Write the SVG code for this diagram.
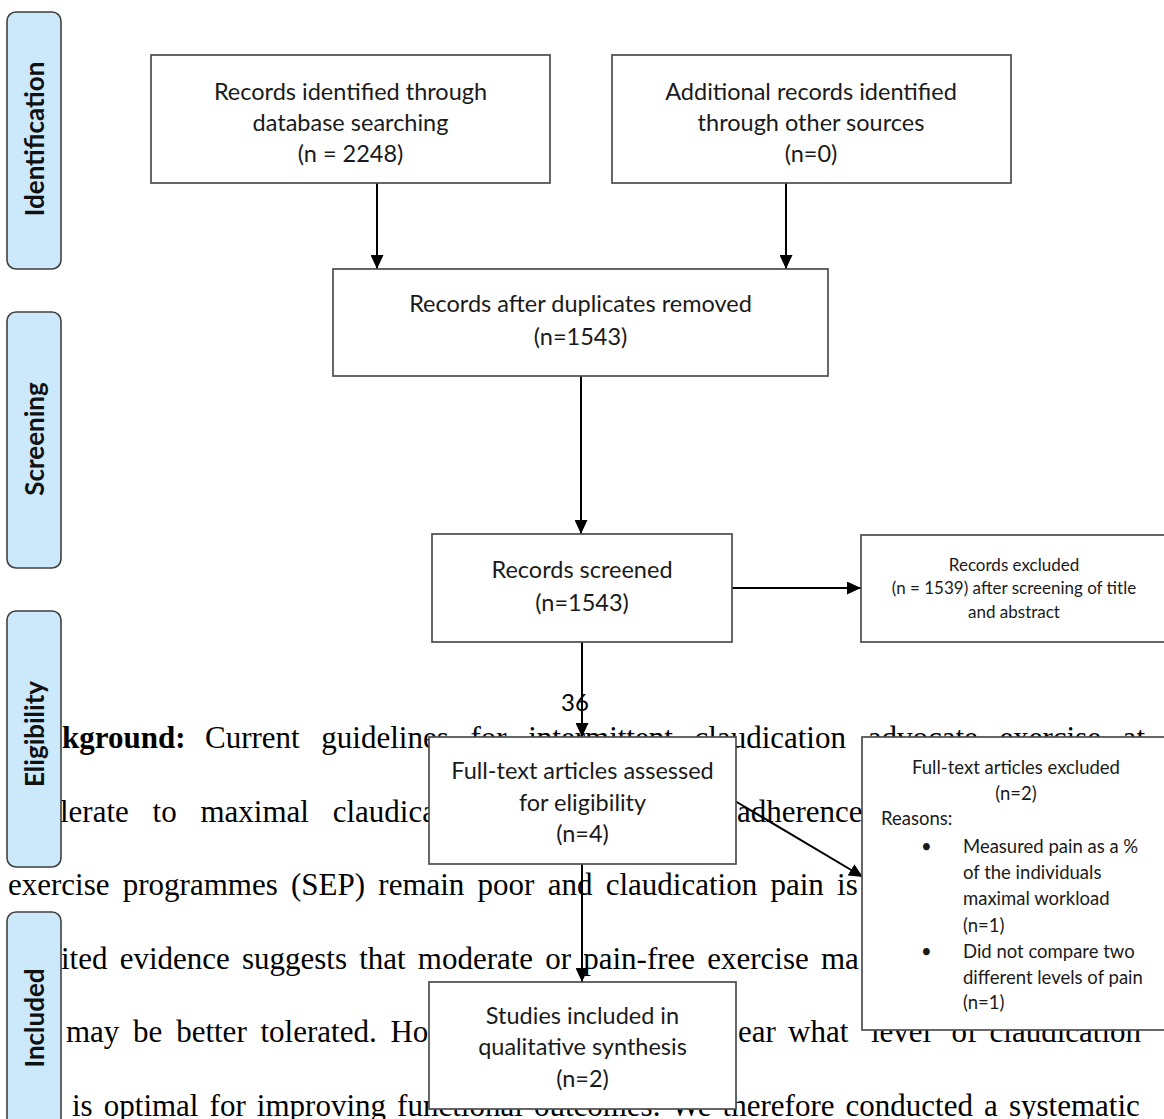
<svg xmlns="http://www.w3.org/2000/svg" width="1164" height="1119" viewBox="0 0 1164 1119">
<defs>
<marker id="ah" markerWidth="14" markerHeight="13" refX="14" refY="6.5" orient="auto" markerUnits="userSpaceOnUse">
<path d="M0,0 L14,6.5 L0,13 z" fill="#000"/>
</marker>
<style>
.bg{font-family:"Liberation Serif","Times New Roman",serif;font-size:31px;fill:#000}
.bx{fill:#fff;stroke:#4d4d4d;stroke-width:1.7}
.lb{fill:#cce9fc;stroke:#3f3f3f;stroke-width:1.6}
.lt{font-family:Lato,"Open Sans",sans-serif;font-weight:700;font-size:26px;fill:#111;text-anchor:middle}
.t{font-family:Lato,"Open Sans",sans-serif;font-size:23.5px;fill:#1a1a1a;text-anchor:middle}
.s{font-family:Lato,"Open Sans",sans-serif;font-size:17px;fill:#1a1a1a;text-anchor:middle}
.m{font-family:Lato,"Open Sans",sans-serif;font-size:18.5px;fill:#1a1a1a}
.c{stroke:#000;stroke-width:2;fill:none;marker-end:url(#ah)}
</style>
</defs>
<rect width="1164" height="1119" fill="#fff"/>
<g id="page-text">
<text class="bg" x="62" y="748" font-weight="bold">kground:</text>
<text class="bg" x="205" y="748" word-spacing="13.9">Current guidelines for intermittent claudication advocate exercise at</text>
<text class="bg" x="60" y="821.6" word-spacing="16">lerate to maximal claudica</text>
<text class="bg" x="737" y="821.6">adherence</text>
<text class="bg" x="8" y="895" word-spacing="5.5">exercise programmes (SEP) remain poor and claudication pain is</text>
<text class="bg" x="61" y="969" word-spacing="4.4">ited evidence suggests that moderate or pain-free exercise ma</text>
<text class="bg" x="66" y="1042" word-spacing="6">may be better tolerated. Ho</text>
<text class="bg" x="738" y="1042" word-spacing="4.5">ear what ‘level’ of claudication</text>
<text class="bg" x="72" y="1116" word-spacing="3.35">is optimal for improving functional outcomes. We therefore conducted a systematic</text>
<text x="575" y="711" font-family="Lato, 'Open Sans', sans-serif" font-size="24" text-anchor="middle" fill="#000">36</text>
</g>
<g id="label-identification"><rect class="lb" x="7" y="12" width="54" height="257" rx="9"/><text class="lt" transform="translate(44,139) rotate(-90)">Identification</text></g>
<g id="label-screening"><rect class="lb" x="7" y="312" width="54" height="256" rx="9"/><text class="lt" transform="translate(44,439) rotate(-90)">Screening</text></g>
<g id="label-eligibility"><rect class="lb" x="7" y="611" width="54" height="256" rx="9"/><text class="lt" transform="translate(44,734) rotate(-90)">Eligibility</text></g>
<g id="label-included"><rect class="lb" x="7" y="912" width="54" height="260" rx="9"/><text class="lt" transform="translate(44,1018) rotate(-90)">Included</text></g>
<g id="connectors">
<line class="c" x1="377" y1="183" x2="377" y2="269"/>
<line class="c" x1="786" y1="183" x2="786" y2="269"/>
<line class="c" x1="581" y1="376" x2="581" y2="534"/>
<line class="c" x1="732" y1="588" x2="861" y2="588"/>
<line class="c" x1="582" y1="642" x2="582" y2="737"/>
<line class="c" x1="735" y1="801" x2="863" y2="877"/>
<line class="c" x1="582" y1="864" x2="582" y2="982"/>
</g>
<g id="node-db"><rect class="bx" x="151" y="55" width="399" height="128"/>
<text class="t" x="350.5" y="100">Records identified through</text>
<text class="t" x="350.5" y="131">database searching</text>
<text class="t" x="350.5" y="162">(n = 2248)</text></g>
<g id="node-other"><rect class="bx" x="612" y="55" width="399" height="128"/>
<text class="t" x="811" y="100">Additional records identified</text>
<text class="t" x="811" y="131">through other sources</text>
<text class="t" x="811" y="162">(n=0)</text></g>
<g id="node-dup"><rect class="bx" x="333" y="269" width="495" height="107"/>
<text class="t" x="580.5" y="312">Records after duplicates removed</text>
<text class="t" x="580.5" y="345">(n=1543)</text></g>
<g id="node-screened"><rect class="bx" x="432" y="534" width="300" height="108"/>
<text class="t" x="582" y="578">Records screened</text>
<text class="t" x="582" y="611">(n=1543)</text></g>
<g id="node-excluded1"><rect class="bx" x="861" y="535" width="330" height="107"/>
<text class="s" x="1014" y="571">Records excluded</text>
<text class="s" x="1014" y="594">(n = 1539) after screening of title</text>
<text class="s" x="1014" y="618">and abstract</text></g>
<g id="node-fulltext"><rect class="bx" x="429" y="737" width="307" height="127"/>
<text class="t" x="582.5" y="779">Full-text articles assessed</text>
<text class="t" x="582.5" y="811">for eligibility</text>
<text class="t" x="582.5" y="842">(n=4)</text></g>
<g id="node-excluded2"><rect class="bx" x="862" y="737" width="330" height="293"/>
<text class="m" x="1016" y="774" text-anchor="middle">Full-text articles excluded</text>
<text class="m" x="1016" y="800" text-anchor="middle">(n=2)</text>
<text class="m" x="881" y="825">Reasons:</text>
<text class="m" x="921" y="853">•</text>
<text class="m" x="963" y="853">Measured pain as a %</text>
<text class="m" x="963" y="879">of the individuals</text>
<text class="m" x="963" y="905">maximal workload</text>
<text class="m" x="963" y="932">(n=1)</text>
<text class="m" x="921" y="958">•</text>
<text class="m" x="963" y="958">Did not compare two</text>
<text class="m" x="963" y="984">different levels of pain</text>
<text class="m" x="963" y="1009">(n=1)</text></g>
<g id="node-included"><rect class="bx" x="429" y="982" width="307" height="127"/>
<text class="t" x="582.5" y="1024">Studies included in</text>
<text class="t" x="582.5" y="1055">qualitative synthesis</text>
<text class="t" x="582.5" y="1087">(n=2)</text></g>
</svg>
